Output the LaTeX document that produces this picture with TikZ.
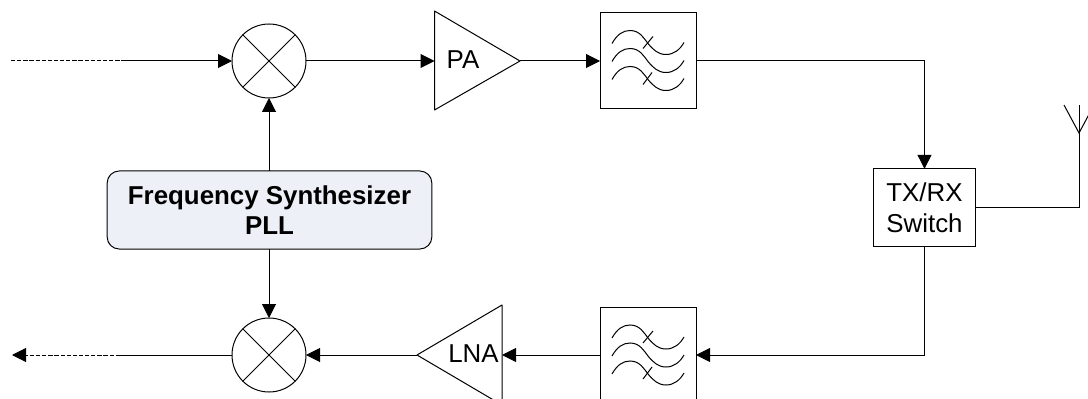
\documentclass[tikz,border=0pt]{standalone}
\usepackage{fontspec}
\setmainfont{Liberation Sans}
\usetikzlibrary{arrows.meta}
\tikzset{
    sig/.style={-{Triangle[length=10.5pt,width=10.5pt]}},
    dashsig/.style={dash pattern=on 3.2pt off 1.4pt},
    mixer/.style={draw,circle,minimum size=55.5pt,inner sep=0pt,outer sep=0pt},
    filterbox/.style={draw,minimum width=72pt,minimum height=71.5pt,inner sep=0pt,outer sep=0pt},
    label/.style={font=\fontsize{19.4}{23}\selectfont,inner sep=0pt,align=center},
    switchbox/.style={draw,label,minimum width=77pt,minimum height=58pt,outer sep=0pt},
    pllbox/.style={draw,label,font=\fontsize{19.4}{23}\selectfont\bfseries,rounded corners=9pt,fill=pllfill,minimum width=243.5pt,minimum height=58.5pt,outer sep=0pt},
    waves/.pic={
        \foreach \dy in {0,18,36}{
            \draw (-36,-17+\dy) .. controls (-31,-26+\dy) and (-25,-30+\dy) .. (-18,-30+\dy)
                  .. controls (-8,-30+\dy) and (-4,-22+\dy) .. (0,-17+\dy)
                  .. controls (5,-11+\dy) and (10,-6+\dy) .. (18,-6+\dy)
                  .. controls (26,-6+\dy) and (32,-11+\dy) .. (36,-18+\dy);
        }
        \draw (-5,-12) -- (5,-24);
        \draw (-5,24) -- (4,12);
    },
}
\definecolor{pllfill}{HTML}{EDF0F7}
\begin{document}
\begin{tikzpicture}[x=0.75pt,y=-0.75pt,line width=0.75pt]
	%cadre
	\useasboundingbox (0,0) rectangle (1088,399);
	\clip (0,0) rectangle (1088,399);

	%MELANGEURS
	\node[mixer] (mixtx) at (269,61) {};
	\node[mixer] (mixrx) at (269,355) {};
	\draw (mixtx.45) -- (mixtx.225);
	\draw (mixtx.135) -- (mixtx.315);
	\draw (mixrx.45) -- (mixrx.225);
	\draw (mixrx.135) -- (mixrx.315);

	%PLL
	\node[pllbox] (pll) at (269.5,210) {Frequency Synthesizer\\PLL};

	%PA
	\coordinate (pain) at (434.5,61);
	\coordinate (patop) at (434.5,11);
	\coordinate (pabot) at (434.5,110);
	\coordinate (patip) at (520,61);
	\draw[line join=round] (patop) -- (patip) -- (pabot) -- cycle;
	\node[label,anchor=base] (palabel) at (463,69) {PA};

	%LNA
	\coordinate (lnain) at (502,355);
	\coordinate (lnatop) at (502,305);
	\coordinate (lnabot) at (502,405);
	\coordinate (lnatip) at (417,355);
	\draw[line join=round] (lnatop) -- (lnatip) -- (lnabot) -- cycle;
	\node[label,anchor=base] (lnalabel) at (473.5,362) {LNA};

	%FILTRES
	\node[filterbox] (filtx) at (648,60.5) {};
	\node[filterbox] (filrx) at (648,355) {};
	\pic at (filtx.center) {waves};
	\pic at (filrx.center) {waves};

	%SWITCH
	\node[switchbox] (switch) at (924.5,207.5) {TX/RX\\Switch};

	%ANTENNE
	\coordinate (anttip) at (1079,133);
	\coordinate (anttop) at (1079,105);
	\coordinate (antl) at (1064,105);
	\coordinate (antr) at (1094,105);
	\draw (antl) -- (anttip) -- (antr);
	\draw (anttip) -- (anttop);

	%entree et sortie
	\coordinate (ina) at (11,61);
	\coordinate (inb) at (122,61);
	\coordinate (outa) at (12,355);
	\coordinate (outb) at (120,355);

	%CHAINE TX
	\draw[dashsig] (ina) -- (inb);
	\draw[sig] (inb) -- (mixtx.west);
	\draw[sig] (mixtx.east) -- (pain);
	\draw[sig] (patip) -- (filtx.west |- patip);
	\draw[sig] (filtx.east |- patip) -| (switch.north);

	%CHAINE RX
	\draw[sig] (switch.south) |- (filrx.east);
	\draw[sig] (filrx.west) -- (lnain);
	\draw[sig] (lnatip) -- (mixrx.east);
	\draw (mixrx.west) -- (outb);
	\draw[dashsig,sig] (outb) -- (outa);

	%OL
	\draw[sig] (pll.north -| mixtx.south) -- (mixtx.south);
	\draw[sig] (pll.south -| mixrx.north) -- (mixrx.north);

	%antenne vers switch
	\draw (switch.east) -| (anttip);
\end{tikzpicture}
\end{document}
